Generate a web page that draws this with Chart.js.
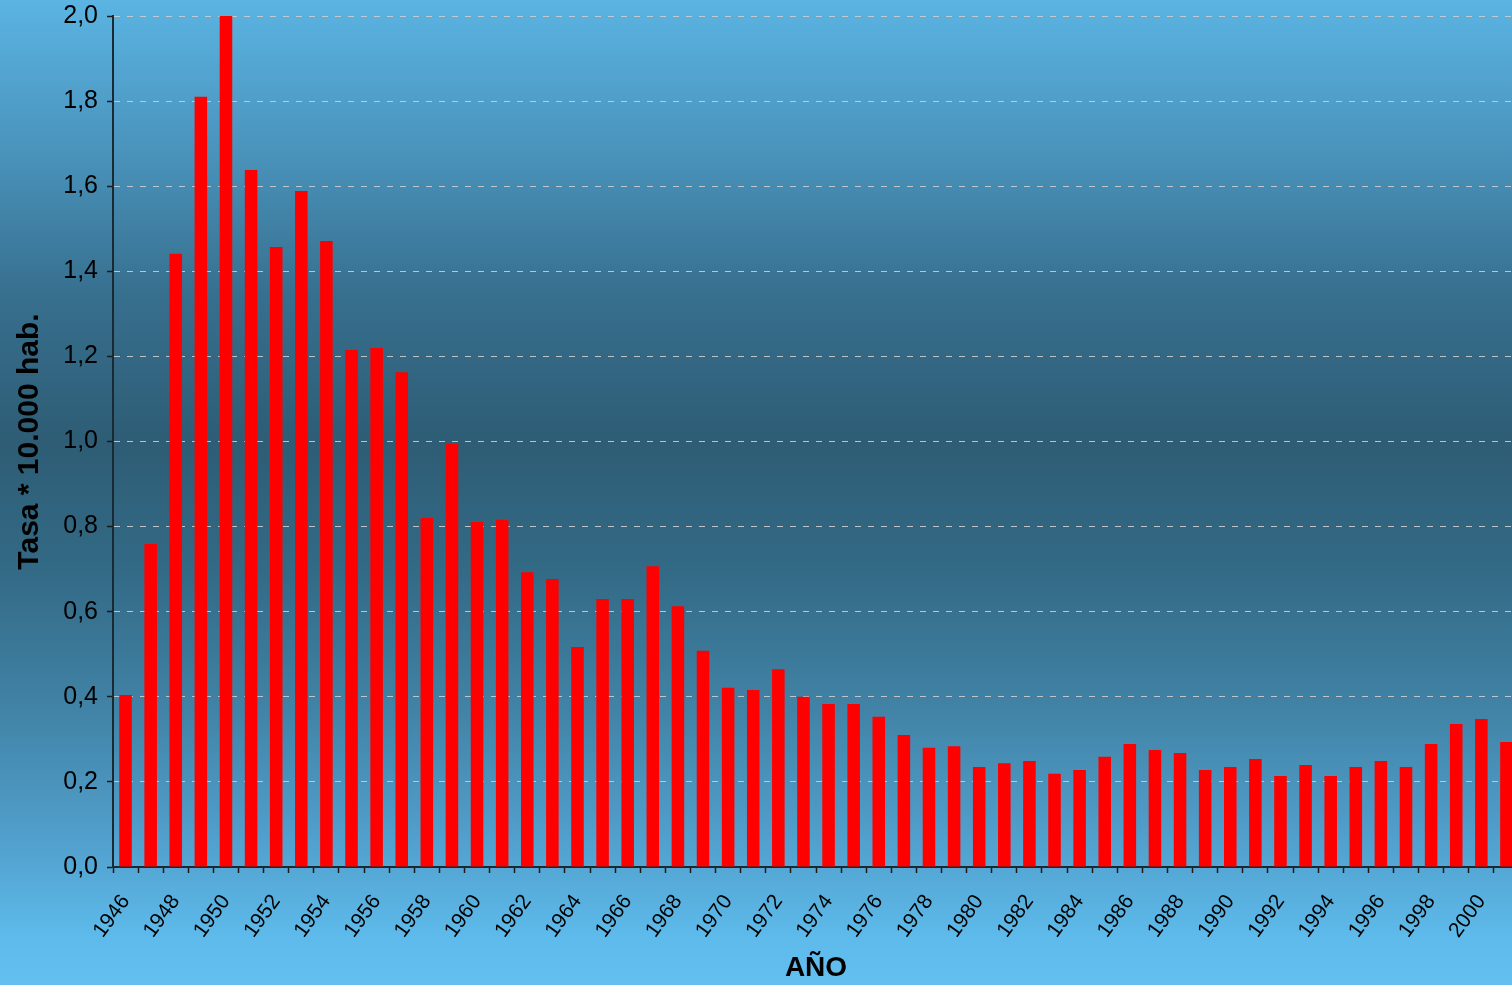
<!DOCTYPE html>
<html lang="es">
<head>
<meta charset="UTF-8" />
<title>Tasa * 10.000 hab. por año</title>
<script src="https://cdn.jsdelivr.net/npm/chart.js"></script>
<style>
  html, body {
    margin: 0; padding: 0;
    width: 1512px; height: 985px;
    overflow: hidden;
  }
  body {
    background: linear-gradient(to bottom,
      #5bb4e2 0%, #4a94bd 15%, #376f8e 30%, #2e5d75 45%,
      #336a86 58%, #4183a6 72%, #519fcc 85%, #5dbaea 95%, #62bff0 100%);
  }
  .wrap {
    position: absolute; left: 0; top: 0;
    width: 1519px; height: 985px;
  }
</style>
</head>
<body>
  <div class="wrap">
    <canvas id="tasaChart"></canvas>
  </div>

  <script>
    const years = [
      '1946','1947','1948','1949','1950','1951','1952','1953','1954','1955',
      '1956','1957','1958','1959','1960','1961','1962','1963','1964','1965',
      '1966','1967','1968','1969','1970','1971','1972','1973','1974','1975',
      '1976','1977','1978','1979','1980','1981','1982','1983','1984','1985',
      '1986','1987','1988','1989','1990','1991','1992','1993','1994','1995',
      '1996','1997','1998','1999','2000','2001'
    ];

    const tasa = [
      0.404, 0.759, 1.441, 1.810, 2.000, 1.638, 1.457, 1.589, 1.471, 1.215,
      1.220, 1.163, 0.820, 0.994, 0.811, 0.816, 0.693, 0.677, 0.517, 0.630,
      0.630, 0.707, 0.613, 0.508, 0.421, 0.416, 0.465, 0.400, 0.383, 0.383,
      0.353, 0.310, 0.280, 0.284, 0.235, 0.244, 0.249, 0.219, 0.228, 0.259,
      0.289, 0.275, 0.268, 0.228, 0.235, 0.254, 0.214, 0.240, 0.214, 0.235,
      0.249, 0.235, 0.289, 0.336, 0.348, 0.294
    ];

    const yMin = 0;
    const yMax = 2;
    const yStep = 0.2;

    const fontFamily = "'Liberation Sans', Arial, sans-serif";

    const ctx = document.getElementById('tasaChart').getContext('2d');
    new Chart(ctx, {
      type: 'bar',
      data: {
        labels: years,
        datasets: [{
          label: 'Tasa',
          data: tasa,
          backgroundColor: '#ff0000',
          borderWidth: 0,
          categoryPercentage: 1,
          barPercentage: 0.5
        }]
      },
      options: {
        responsive: true,
        maintainAspectRatio: false,
        animation: false,
        layout: { padding: { top: 16 } },
        plugins: {
          legend: { display: false },
          tooltip: { enabled: false }
        },
        scales: {
          x: {
            afterFit: function(scale) {
              scale.height = 118;
              scale.paddingLeft = 0;
              scale.paddingRight = 0;
            },
            grid: {
              offset: true,
              drawOnChartArea: false,
              drawTicks: true,
              tickLength: 6,
              tickColor: '#1a1a1a',
              tickWidth: 1.5
            },
            border: { display: true, color: '#1a2a33', width: 2 },
            ticks: {
              autoSkip: false,
              maxRotation: 54,
              minRotation: 54,
              padding: 17,
              color: '#000',
              font: { family: fontFamily, size: 21 },
              callback: function(value, index) {
                return index % 2 === 0 ? this.getLabelForValue(value) : '';
              }
            },
            title: {
              display: true,
              text: 'AÑO',
              color: '#000',
              font: { family: fontFamily, size: 28, weight: 'bold' },
              padding: { top: 0, bottom: 0 }
            }
          },
          y: {
            min: yMin,
            max: yMax,
            afterFit: function(scale) {
              scale.width = 113;
              scale.paddingTop = 0;
              scale.paddingBottom = 0;
            },
            grid: {
              color: 'rgba(205,205,205,0.9)',
              lineWidth: 1,
              drawTicks: true,
              tickLength: 6,
              tickColor: '#1a1a1a',
              tickWidth: 1.5,
              tickBorderDash: []
            },
            border: { display: true, color: '#1a2a33', width: 2, dash: [6, 7] },
            ticks: {
              stepSize: yStep,
              padding: 9,
              color: '#000',
              font: { family: fontFamily, size: 25 },
              callback: function(value) {
                return value.toFixed(1).replace('.', ',');
              }
            },
            title: {
              display: true,
              text: 'Tasa * 10.000 hab.',
              color: '#000',
              font: { family: fontFamily, size: 30, weight: 'bold' },
              padding: { top: 12, bottom: 0 }
            }
          }
        }
      }
    });
  </script>
</body>
</html>
